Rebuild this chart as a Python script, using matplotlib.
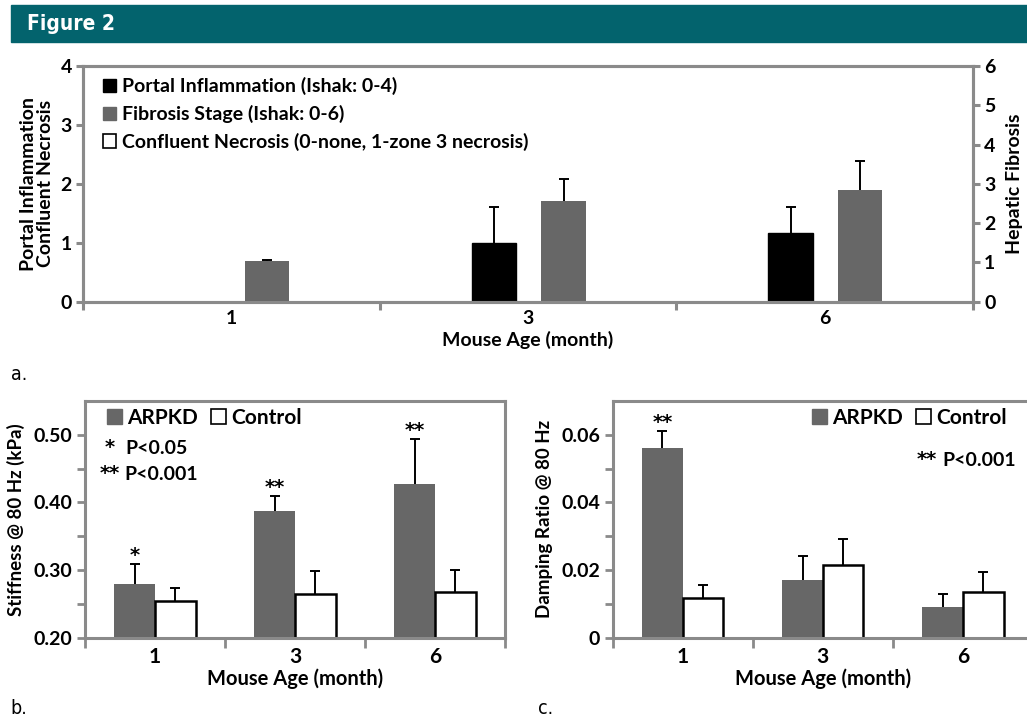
import numpy as np
import matplotlib
matplotlib.use('Agg')
import matplotlib.pyplot as plt
from matplotlib.patches import Rectangle, Patch

plt.rcParams['font.family'] = ['Lato', 'DejaVu Sans']
plt.rcParams['font.weight'] = 'bold'
plt.rcParams['axes.labelweight'] = 'bold'

# ---------------- data ----------------
ages = ['1', '3', '6']

# panel a
portal_infl = [0.0, 1.0, 1.16]
portal_infl_err = [0.0, 0.60, 0.44]
fibrosis = [1.02, 2.57, 2.85]
fibrosis_err = [0.05, 0.55, 0.73]
necrosis = [0.0, 0.0, 0.0]

# panel b
stiff_arpkd = [0.279, 0.388, 0.428]
stiff_arpkd_err = [0.030, 0.021, 0.066]
stiff_ctrl = [0.255, 0.265, 0.268]
stiff_ctrl_err = [0.019, 0.034, 0.032]
stiff_sig = ['*', '**', '**']

# panel c
damp_arpkd = [0.0560, 0.0170, 0.0091]
damp_arpkd_err = [0.0052, 0.0071, 0.0037]
damp_ctrl = [0.0116, 0.0216, 0.0135]
damp_ctrl_err = [0.0040, 0.0075, 0.0059]
damp_sig = ['**', '', '']

# ---------------- style ----------------
W, H = 1027, 719
GREY = '#676767'
SPINE = '#8a8a8a'
TEAL = '#03636d'
STAR = dict(family=['DejaVu Sans'], fontsize=14, fontweight='bold')


def fx(px):
    return px / W


def fy(py):
    return 1 - py / H


def rect(l, t, r, b):
    return [fx(l), fy(b), fx(r) - fx(l), fy(t) - fy(b)]


def up_err(ax, x, y, e):
    _, caps, _ = ax.errorbar(x, y, yerr=[np.zeros(len(e)), e], fmt='none',
                             ecolor='black', elinewidth=1.4, capsize=3.5,
                             capthick=1.4, zorder=3)
    caps[0].set_visible(False)


def style_axes(ax, spines=('left', 'bottom', 'top', 'right')):
    for s in ax.spines:
        ax.spines[s].set_color(SPINE)
        ax.spines[s].set_linewidth(2.2)
        ax.spines[s].set_visible(s in spines)


fig = plt.figure(figsize=(W / 100, H / 100), dpi=100)

# header band
fig.patches.append(Rectangle((fx(11), fy(42)), fx(1027) - fx(11), fy(5) - fy(42),
                             transform=fig.transFigure, color=TEAL, zorder=0))
fig.text(fx(27), fy(24), 'Figure 2', color='white', fontsize=15, fontweight='bold',
         va='center', ha='left', family=['DejaVu Sans'], fontstretch='condensed')

# ================= panel a =================
x = np.arange(len(ages))
axA = fig.add_axes(rect(83, 66, 973, 301.5))
axA2 = axA.twinx()
wa = 0.149
axA.bar(x - 0.115, portal_infl, wa, color='black', edgecolor='black', zorder=2)
axA.bar(x, necrosis, wa, color='white', edgecolor='black', linewidth=1.2, zorder=1)
up_err(axA, (x - 0.115)[1:], np.array(portal_infl)[1:], np.array(portal_infl_err)[1:])
axA2.bar(x + 0.12, fibrosis, wa, color=GREY, zorder=2)
up_err(axA2, x + 0.12, np.array(fibrosis), np.array(fibrosis_err))

axA.set_xlim(-0.5, 2.5)
axA.set_ylim(0, 4)
axA2.set_ylim(0, 6)
axA.set_yticks(range(0, 5))
axA2.set_yticks(range(0, 7))
axA.set_xticks(x)
axA.set_xticklabels(ages)
axA.set_xticks([-0.5, 0.5, 1.5, 2.5], minor=True)
for ax in (axA, axA2):
    style_axes(ax)
    ax.tick_params(axis='y', direction='out', length=5, width=2.2, color=SPINE,
                   labelsize=14, pad=3)
axA.tick_params(axis='x', which='major', length=0, labelsize=14, pad=6)
axA.tick_params(axis='x', which='minor', length=6, width=2.2, color=SPINE, direction='out')
axA.set_xlabel('Mouse Age (month)', fontsize=14, labelpad=3)
axA.set_ylabel('Portal Inflammation\nConfluent Necrosis', fontsize=14,
               linespacing=1.0, labelpad=5)
# right-axis title sits at the very edge of the figure, as in the original
fig.text(fx(1006), fy(184), 'Hepatic Fibrosis', fontsize=14, fontweight='bold',
         rotation=90, ha='left', va='center')

handles = [Patch(facecolor='black', edgecolor='black'),
           Patch(facecolor=GREY, edgecolor=GREY),
           Patch(facecolor='white', edgecolor='black', linewidth=1.2)]
axA2.legend(handles, ['Portal Inflammation (Ishak: 0-4)', 'Fibrosis Stage (Ishak: 0-6)',
                      'Confluent Necrosis (0-none, 1-zone 3 necrosis)'],
            loc='upper left', bbox_to_anchor=(0.022, 0.952), frameon=False,
            fontsize=14, handlelength=0.7, handleheight=0.7, handletextpad=0.3,
            labelspacing=0.5, borderpad=0, borderaxespad=0)

fig.text(fx(11), fy(375), 'a.', fontsize=14, family=['DejaVu Sans'],
         fontstretch='condensed', fontweight='normal', va='center')

# ================= panel b & c =================
wb = 0.29


def paired_panel(box, arpkd, arpkd_err, ctrl, ctrl_err, sig, ylim, major, minor,
                 fmt, ylabel, spines):
    ax = fig.add_axes(box)
    ax.bar(x - wb / 2, arpkd, wb, color=GREY, zorder=2)
    ax.bar(x + wb / 2, ctrl, wb, color='white', edgecolor='black', linewidth=1.8, zorder=2)
    up_err(ax, x - wb / 2, np.array(arpkd), np.array(arpkd_err))
    up_err(ax, x + wb / 2, np.array(ctrl), np.array(ctrl_err))
    for xi, v, e, s in zip(x, arpkd, arpkd_err, sig):
        if s:
            ax.annotate(s, (xi - wb / 2, v + e), xytext=(0, -1), textcoords='offset pixels',
                        ha='center', va='bottom', **STAR)
    ax.set_xlim(-0.5, 2.5)
    ax.set_ylim(*ylim)
    ax.set_yticks(major)
    ax.set_yticklabels([fmt(v) for v in major])
    ax.set_yticks(minor, minor=True)
    ax.set_xticks(x)
    ax.set_xticklabels(ages)
    ax.set_xticks([-0.5, 0.5, 1.5, 2.5], minor=True)
    style_axes(ax, spines)
    ax.tick_params(axis='y', which='both', direction='out', length=6, width=2, color=SPINE,
                   labelsize=14, pad=3)
    ax.tick_params(axis='x', which='major', length=0, labelsize=15, pad=7)
    ax.tick_params(axis='x', which='minor', length=7, width=2, color=SPINE, direction='out')
    ax.set_xlabel('Mouse Age (month)', fontsize=14.5, labelpad=1)
    ax.set_ylabel(ylabel, fontsize=13.5, labelpad=6)
    return ax


axB = paired_panel(rect(85, 401, 505, 637.7), stiff_arpkd, stiff_arpkd_err, stiff_ctrl,
                   stiff_ctrl_err, stiff_sig, (0.20, 0.55), [0.2, 0.3, 0.4, 0.5],
                   [0.25, 0.35, 0.45], lambda v: f'{v:.2f}', 'Stiffness @ 80 Hz (kPa)',
                   ('left', 'bottom', 'top', 'right'))
axC = paired_panel(rect(612.7, 401, 1033, 637.7), damp_arpkd, damp_arpkd_err, damp_ctrl,
                   damp_ctrl_err, damp_sig, (0, 0.07), [0, 0.02, 0.04, 0.06],
                   [0.01, 0.03, 0.05], lambda v: '0' if v == 0 else f'{v:.2f}',
                   'Damping Ratio @ 80 Hz', ('left', 'bottom', 'top'))

leg_handles = [Patch(facecolor=GREY, edgecolor=GREY),
               Patch(facecolor='white', edgecolor='black', linewidth=1.2)]
for ax, anchor in ((axB, (fx(107), fy(408))), (axC, (fx(812), fy(408)))):
    ax.legend(leg_handles, ['ARPKD', 'Control'], ncol=2, loc='upper left',
              bbox_to_anchor=anchor, bbox_transform=fig.transFigure, frameon=False,
              fontsize=15, handlelength=0.7, handleheight=0.7, handletextpad=0.25,
              columnspacing=0.65, borderpad=0, borderaxespad=0)

fig.text(fx(110), fy(447), '*', ha='center', va='center', **STAR)
fig.text(fx(125), fy(448), 'P<0.05', fontsize=14, ha='left', va='center')
fig.text(fx(110), fy(474), '**', ha='center', va='center', **STAR)
fig.text(fx(124), fy(475), 'P<0.001', fontsize=14, ha='left', va='center')
fig.text(fx(927), fy(460), '**', ha='center', va='center', **STAR)
fig.text(fx(942), fy(461), 'P<0.001', fontsize=14, ha='left', va='center')

fig.text(fx(10), fy(708), 'b.', fontsize=14, family=['DejaVu Sans'],
         fontstretch='condensed', fontweight='normal', va='center')
fig.text(fx(538), fy(708), 'c.', fontsize=14, family=['DejaVu Sans'],
         fontstretch='condensed', fontweight='normal', va='center')

fig.savefig('out.png', dpi=100)
